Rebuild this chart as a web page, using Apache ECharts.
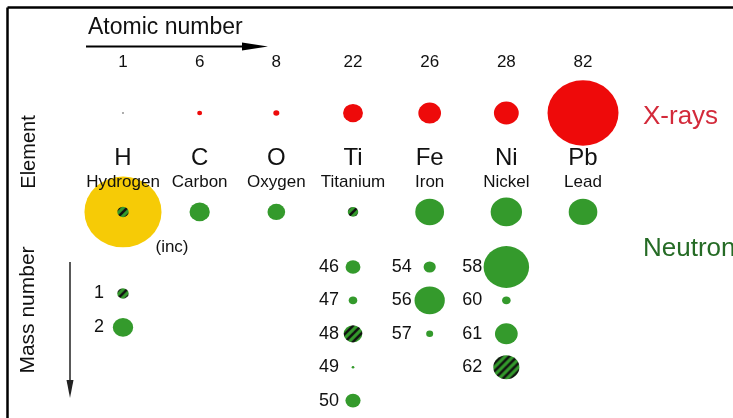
<!DOCTYPE html>
<html>
<head>
<meta charset="utf-8">
<title>X-ray and neutron scattering by element</title>
<script src="https://cdn.jsdelivr.net/npm/echarts@6/dist/echarts.min.js"></script>
<style>
    html, body { margin: 0; padding: 0; background: #fff; }
    #chart { width: 733px; height: 418px; }
</style>
</head>
<body>
<div id="chart"></div>
<script>
// elements, in order of atomic number
var symbols = ['H', 'C', 'O', 'Ti', 'Fe', 'Ni', 'Pb'];
var names = ['Hydrogen', 'Carbon', 'Oxygen', 'Titanium', 'Iron', 'Nickel', 'Lead'];
var atomicNumbers = [1, 6, 8, 22, 26, 28, 82];
// relative x-ray scattering power (Pb = 1)
var xrayPower = [0.03, 0.07, 0.085, 0.28, 0.32, 0.35, 1];
// neutron coherent cross section (barn); negative scattering length is hatched
var neutronCoh = [1.76, 5.55, 4.23, 1.48, 11.2, 13.3, 11.1];
var neutronNeg = [true, false, false, true, false, false, false];
var hydrogenInc = 80.3; // incoherent, hydrogen only
// isotopes
var isoElement = [0, 0, 3, 3, 3, 3, 3, 4, 4, 4, 5, 5, 5, 5];
var isoMass = [1, 2, 46, 47, 48, 49, 50, 54, 56, 57, 58, 60, 61, 62];
var isoSigma = [1.76, 5.6, 3.0, 1.0, 4.7, 0.1, 3.1, 2.0, 12.4, 0.66, 28, 1.0, 7.0, 9.2];
var isoNeg = [true, false, false, false, true, false, false, false, false, false, false, false, false, true];

// layout (rows in units of the isotope row pitch)
var rowAtomic = -6.14, rowXray = -4.61, rowSymbol = -3.26, rowName = -2.54, rowNeutron = -1.65;
var isoRowStart = { 0: 0.79, 3: 0, 4: 0, 5: 0 };
var isoLabelGap = { 0: 19, 3: 14, 4: 18, 5: 24 };
var FONT = '"Liberation Sans", Arial, sans-serif';
var TEXT = '#111';
var RED = '#ee0a0a', GREEN = '#349a2c', YELLOW = '#f6cb06';

// green tile with a black diagonal stripe, for negative scattering length
var hatchTile = (function () {
    var n = 8;
    var c = document.createElement('canvas');
    c.width = n;
    c.height = n;
    var ctx = c.getContext('2d');
    ctx.fillStyle = GREEN;
    ctx.fillRect(0, 0, n, n);
    ctx.strokeStyle = '#111';
    ctx.lineWidth = 2.5;
    [-n, 0, n].forEach(function (o) {
        ctx.beginPath();
        ctx.moveTo(o - 1, n + 1);
        ctx.lineTo(o + n + 1, -1);
        ctx.stroke();
    });
    return c;
})();

// symbols are drawn as a unit shape scaled to size, so undo that on the pattern
function hatchFor(size) {
    return { image: hatchTile, repeat: 'repeat', scaleX: 2 / size[0], scaleY: 2 / size[1] };
}

function nSize(s) {
    var d = 8.6 * Math.sqrt(s);
    return [d, d * 0.92];
}

function textRow(row, texts, size) {
    return {
        type: 'scatter',
        symbolSize: 0,
        silent: true,
        itemStyle: { opacity: 1 },
        data: texts.map(function (t, i) { return { value: [i, row], name: String(t) }; }),
        label: {
            show: true,
            position: 'inside',
            formatter: '{b}',
            color: TEXT,
            opacity: 1,
            fontFamily: FONT,
            fontSize: size
        }
    };
}

// isotope data with row positions
var isoCount = {};
var isoData = [], isoLabels = [];
isoElement.forEach(function (el, i) {
    var k = isoCount[el] || 0;
    isoCount[el] = k + 1;
    var row = isoRowStart[el] + k * (el === 0 ? 1.02 : 1);
    var size = nSize(isoSigma[i]);
    var item = { value: [el, row, isoSigma[i]], symbolSize: size };
    if (isoNeg[i]) item.itemStyle = { color: hatchFor(size) };
    isoData.push(item);
    isoLabels.push({
        value: [el, row],
        name: String(isoMass[i]),
        label: { distance: isoLabelGap[el] }
    });
});

var myChart = echarts.init(document.getElementById('chart'));
var option = {
    animation: false,
    backgroundColor: '#fff',
    grid: { left: 84.65, right: 111.65, top: 0, bottom: 0 },
    xAxis: {
        type: 'category',
        data: symbols,
        show: false
    },
    yAxis: {
        type: 'value',
        inverse: true,
        min: -7.994,
        max: 4.521,
        show: false
    },
    graphic: [
        // frame
        { type: 'line', shape: { x1: 7.5, y1: 7.5, x2: 733, y2: 7.5 }, style: { stroke: '#000', lineWidth: 2.5 } },
        { type: 'line', shape: { x1: 7.5, y1: 7.5, x2: 7.5, y2: 418 }, style: { stroke: '#000', lineWidth: 2.5 } },
        // atomic number arrow
        { type: 'text', x: 88, y: 28, style: { text: 'Atomic number', font: '23px ' + FONT, fill: TEXT, align: 'left', verticalAlign: 'middle' } },
        { type: 'line', shape: { x1: 86, y1: 46.5, x2: 250, y2: 46.5 }, style: { stroke: '#000', lineWidth: 2 } },
        { type: 'polygon', shape: { points: [[242, 42.5], [268, 46.5], [242, 50.5]] }, style: { fill: '#000' } },
        // side titles
        { type: 'text', x: 29, y: 152, rotation: Math.PI / 2, style: { text: 'Element', font: '20px ' + FONT, fill: TEXT, align: 'center', verticalAlign: 'middle' } },
        { type: 'text', x: 28, y: 310, rotation: Math.PI / 2, style: { text: 'Mass number', font: '21px ' + FONT, fill: TEXT, align: 'center', verticalAlign: 'middle' } },
        { type: 'line', shape: { x1: 70, y1: 262, x2: 70, y2: 385 }, style: { stroke: '#222', lineWidth: 1.5 } },
        { type: 'polygon', shape: { points: [[66.5, 380], [70, 398], [73.5, 380]] }, style: { fill: '#222' } },
        // row titles
        { type: 'text', x: 643, y: 117, style: { text: 'X-rays', font: '26px ' + FONT, fill: '#d32a3a', align: 'left', verticalAlign: 'middle' } },
        { type: 'text', x: 643, y: 249, style: { text: 'Neutrons', font: '26px ' + FONT, fill: '#256b25', align: 'left', verticalAlign: 'middle' } },
        { type: 'text', x: 172, y: 247, style: { text: '(inc)', font: '17px ' + FONT, fill: TEXT, align: 'center', verticalAlign: 'middle' } }
    ],
    series: [
        textRow(rowAtomic, atomicNumbers, 17),
        textRow(rowSymbol, symbols, 24),
        textRow(rowName, names, 17),
        {
            name: 'X-rays',
            type: 'scatter',
            silent: true,
            data: xrayPower.map(function (v, i) {
                return {
                    value: [i, rowXray, v],
                    symbolSize: [71 * v, 71 * v * 0.92],
                    itemStyle: { color: i === 0 ? '#999' : RED }
                };
            }),
            itemStyle: { opacity: 1 }
        },
        {
            name: 'Neutrons (inc)',
            type: 'scatter',
            silent: true,
            data: [{ value: [0, rowNeutron, hydrogenInc], symbolSize: nSize(hydrogenInc) }],
            itemStyle: { color: YELLOW, opacity: 1 }
        },
        {
            name: 'Neutrons',
            type: 'scatter',
            silent: true,
            data: neutronCoh.map(function (s, i) {
                var size = nSize(s);
                var item = { value: [i, rowNeutron, s], symbolSize: size };
                if (neutronNeg[i]) item.itemStyle = { color: hatchFor(size) };
                return item;
            }),
            itemStyle: { color: GREEN, opacity: 1 }
        },
        {
            name: 'Isotopes',
            type: 'scatter',
            silent: true,
            data: isoData,
            itemStyle: { color: GREEN, opacity: 1 }
        },
        {
            type: 'scatter',
            symbolSize: 0,
            silent: true,
            itemStyle: { opacity: 1 },
            data: isoLabels,
            label: {
                show: true,
                position: 'left',
                formatter: '{b}',
                color: TEXT,
                opacity: 1,
                fontFamily: FONT,
                fontSize: 18
            }
        }
    ]
};
myChart.setOption(option);
window.addEventListener('resize', function () {
    myChart.resize();
});
</script>
</body>
</html>
